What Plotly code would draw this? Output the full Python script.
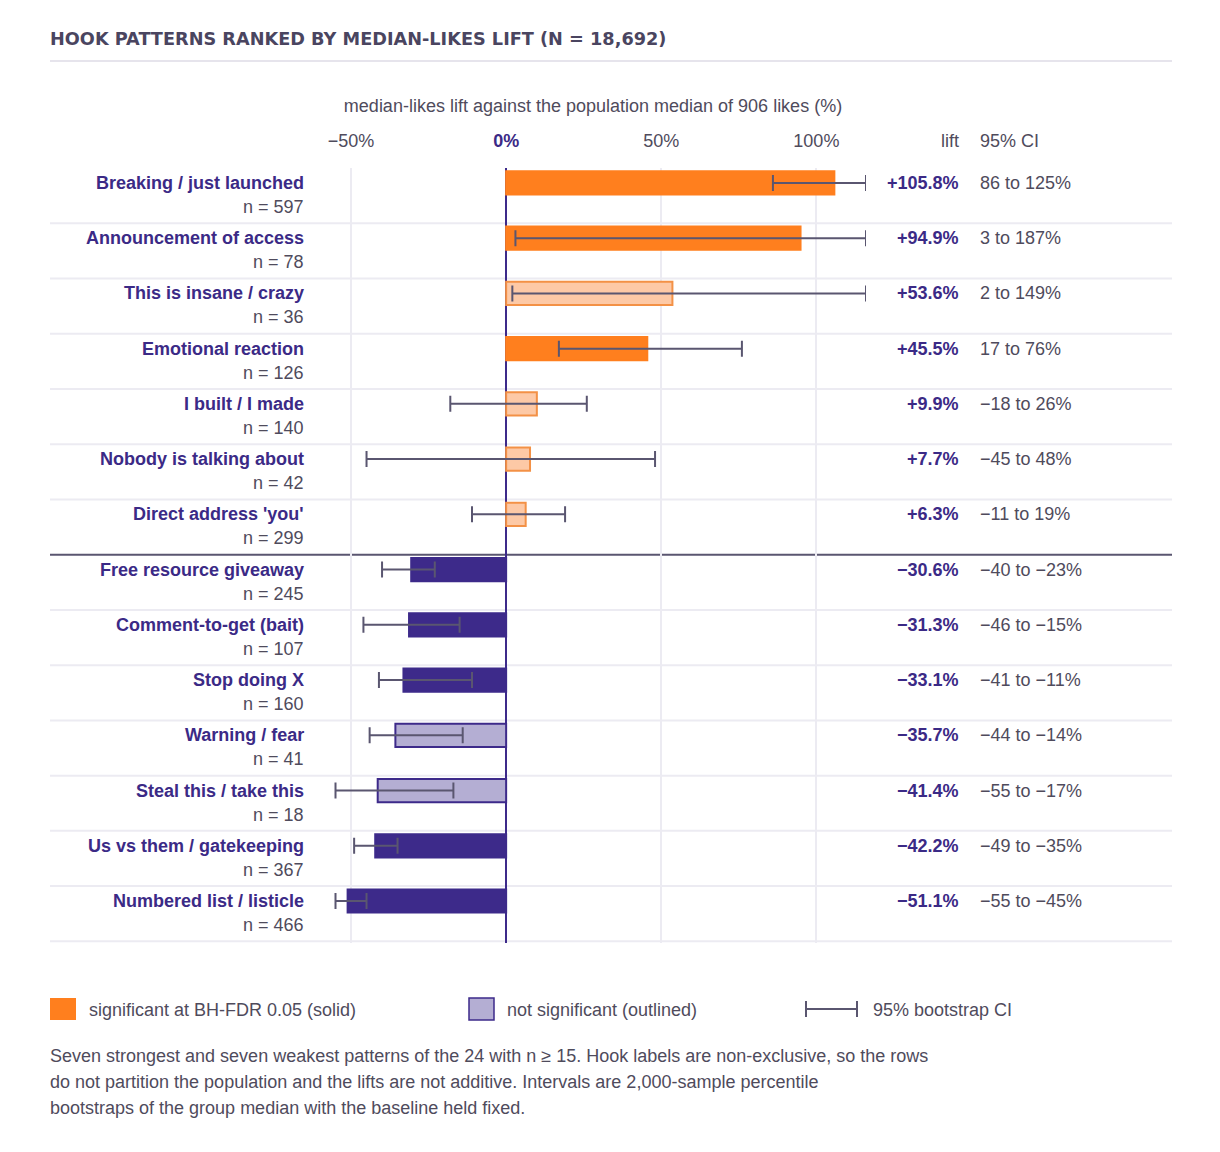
import plotly.graph_objects as go

# rows, top to bottom
hooks = ['Breaking / just launched', 'Announcement of access', 'This is insane / crazy',
         'Emotional reaction', 'I built / I made', 'Nobody is talking about',
         "Direct address 'you'", 'Free resource giveaway', 'Comment-to-get (bait)',
         'Stop doing X', 'Warning / fear', 'Steal this / take this',
         'Us vs them / gatekeeping', 'Numbered list / listicle']
n_posts = [597, 78, 36, 126, 140, 42, 299, 245, 107, 160, 41, 18, 367, 466]
lift = [105.8, 94.9, 53.6, 45.5, 9.9, 7.7, 6.3, -30.6, -31.3, -33.1, -35.7, -41.4, -42.2, -51.1]
ci_low = [86, 3, 2, 17, -18, -45, -11, -40, -46, -41, -44, -55, -49, -55]
ci_high = [125, 187, 149, 76, 26, 48, 19, -23, -15, -11, -14, -17, -35, -45]
significant = [True, True, False, True, False, False, False,
               True, True, True, False, False, True, True]
tick_vals = [-50, 0, 50, 100]
tick_text = ['\u221250%', "<span style='color:#3b2a86'><b>0%</b></span>", '50%', '100%']

ORANGE = '#ff7f1e'
ORANGE_LIGHT = '#fdc9a6'
ORANGE_EDGE = '#f39146'
PURPLE = '#3d2a8a'
PURPLE_LIGHT = '#b4aed3'
INK = '#3b2a86'
GREY = '#4f4b5c'
ERR = '#5a5670'
GRID = '#ecebf2'
FONT = 'Liberation Sans, Arial, sans-serif'

X_MIN, X_MAX = -60, 116
OFF = 8  # page body margin
W, H = 1204, 1136
M_L, M_T = 312, 160
PW, PH = 546, 775
M_R, M_B = W - M_L - PW, H - M_T - PH


# helpers: screen pixel -> paper fraction
def px(p):
    return (p - OFF - M_L) / PW


def py(p):
    return (M_T + PH - (p - OFF)) / PH


def fmt_pct(v):
    return ('+' if v >= 0 else '\u2212') + f'{abs(v):.1f}%'


def fmt_num(v):
    return ('\u2212' if v < 0 else '') + f'{abs(v):g}'


ys = [-i for i in range(len(hooks))]
fills, edges = [], []
for v, s in zip(lift, significant):
    pos = v >= 0
    if s:
        fills.append(ORANGE if pos else PURPLE)
        edges.append(ORANGE if pos else PURPLE)
    else:
        fills.append(ORANGE_LIGHT if pos else PURPLE_LIGHT)
        edges.append(ORANGE_EDGE if pos else PURPLE)

hi_shown = [min(h, X_MAX) for h in ci_high]

fig = go.Figure()
fig.add_trace(go.Bar(
    x=lift, y=ys, orientation='h', width=0.42,
    marker=dict(color=fills, line=dict(color=edges, width=2)),
    error_x=dict(type='data', symmetric=False,
                 array=[h - v for h, v in zip(hi_shown, lift)],
                 arrayminus=[v - l for v, l in zip(lift, ci_low)],
                 color=ERR, thickness=2, width=8),
    cliponaxis=False, showlegend=False, hoverinfo='skip'
))

shapes = []
# row separators
for k in range(1, len(hooks) + 1):
    yb = 0.27 - k
    sep = k == 7
    shapes.append(dict(type='line', xref='paper', yref='y', x0=px(50), x1=px(1172),
                       y0=yb, y1=yb, layer='below',
                       line=dict(color='#5a5670' if sep else GRID, width=2)))
# rule under the title
shapes.append(dict(type='line', xref='paper', yref='paper', x0=px(50), x1=px(1172),
                   y0=py(61), y1=py(61), line=dict(color='#e6e4ec', width=2)))

annotations = []
for i, name in enumerate(hooks):
    annotations.append(dict(x=px(306), y=ys[i], xref='paper', yref='y', text=f'<b>{name}</b>',
                            xanchor='right', yanchor='middle', showarrow=False,
                            font=dict(size=18, color=INK)))
    annotations.append(dict(x=px(306), y=ys[i], xref='paper', yref='y', text=f'n = {n_posts[i]}',
                            xanchor='right', yanchor='middle', yshift=-24, showarrow=False,
                            font=dict(size=18, color=GREY)))
    annotations.append(dict(x=px(961), y=ys[i], xref='paper', yref='y', text=f'<b>{fmt_pct(lift[i])}</b>',
                            xanchor='right', yanchor='middle', showarrow=False,
                            font=dict(size=18, color=INK)))
    annotations.append(dict(x=px(978), y=ys[i], xref='paper', yref='y',
                            text=f'{fmt_num(ci_low[i])} to {fmt_num(ci_high[i])}%',
                            xanchor='left', yanchor='middle', showarrow=False,
                            font=dict(size=18, color=GREY)))

annotations += [
    dict(x=px(961), y=py(141), xref='paper', yref='paper', text='lift', xanchor='right',
         yanchor='middle', showarrow=False, font=dict(size=18, color=GREY)),
    dict(x=px(978), y=py(141), xref='paper', yref='paper', text='95% CI', xanchor='left',
         yanchor='middle', showarrow=False, font=dict(size=18, color=GREY)),
]

# legend row
shapes += [
    dict(type='rect', xref='paper', yref='paper', x0=px(50), x1=px(76), y0=py(998), y1=py(1020),
         fillcolor=ORANGE, line=dict(width=0)),
    dict(type='rect', xref='paper', yref='paper', x0=px(469), x1=px(494), y0=py(998), y1=py(1020),
         fillcolor=PURPLE_LIGHT, line=dict(color=PURPLE, width=1.5)),
    dict(type='line', xref='paper', yref='paper', x0=px(806), x1=px(857), y0=py(1009), y1=py(1009),
         line=dict(color=ERR, width=2)),
    dict(type='line', xref='paper', yref='paper', x0=px(806), x1=px(806), y0=py(1001), y1=py(1017),
         line=dict(color=ERR, width=2)),
    dict(type='line', xref='paper', yref='paper', x0=px(857), x1=px(857), y0=py(1001), y1=py(1017),
         line=dict(color=ERR, width=2)),
]
for xp, txt in [(87, 'significant at BH-FDR 0.05 (solid)'), (505, 'not significant (outlined)'),
                (871, '95% bootstrap CI')]:
    annotations.append(dict(x=px(xp), y=py(1010), xref='paper', yref='paper', text=txt,
                            xanchor='left', yanchor='middle', showarrow=False,
                            font=dict(size=18, color=GREY)))

note_lines = [
    'Seven strongest and seven weakest patterns of the 24 with n \u2265 15. Hook labels are non-exclusive, so the rows',
    'do not partition the population and the lifts are not additive. Intervals are 2,000-sample percentile',
    'bootstraps of the group median with the baseline held fixed.',
]
for j, line in enumerate(note_lines):
    annotations.append(dict(x=px(48), y=py(1056 + 26 * j), xref='paper', yref='paper', text=line,
                            xanchor='left', yanchor='middle', align='left', showarrow=False,
                            font=dict(size=18, color=GREY)))

fig.update_layout(
    width=W, height=H,
    margin=dict(l=M_L, r=M_R, t=M_T, b=M_B),
    plot_bgcolor='white', paper_bgcolor='white',
    font=dict(family=FONT, color=GREY),
    title=dict(text='<b>HOOK PATTERNS RANKED BY MEDIAN-LIKES LIFT (N = 18,692)</b>',
               x=(50 - OFF) / W, xanchor='left', y=1 - (39 - OFF) / H, yanchor='middle',
               font=dict(size=17.7, color='#4a4560', family='DejaVu Sans, Liberation Sans, sans-serif')),
    xaxis=dict(range=[X_MIN, X_MAX], side='top', tickvals=tick_vals, ticktext=tick_text,
               showgrid=True, gridcolor=GRID, gridwidth=2,
               zeroline=True, zerolinecolor=PURPLE, zerolinewidth=2,
               showline=False, ticks='', ticklabelstandoff=16,
               tickfont=dict(size=18, color=GREY),
               title=dict(text='median-likes lift against the population median of 906 likes (%)',
                          font=dict(size=18, color=GREY), standoff=14)),
    yaxis=dict(range=[-13.76, 0.27], visible=False, showgrid=False, zeroline=False),
    shapes=shapes, annotations=annotations,
)

fig.write_html('out.html')
